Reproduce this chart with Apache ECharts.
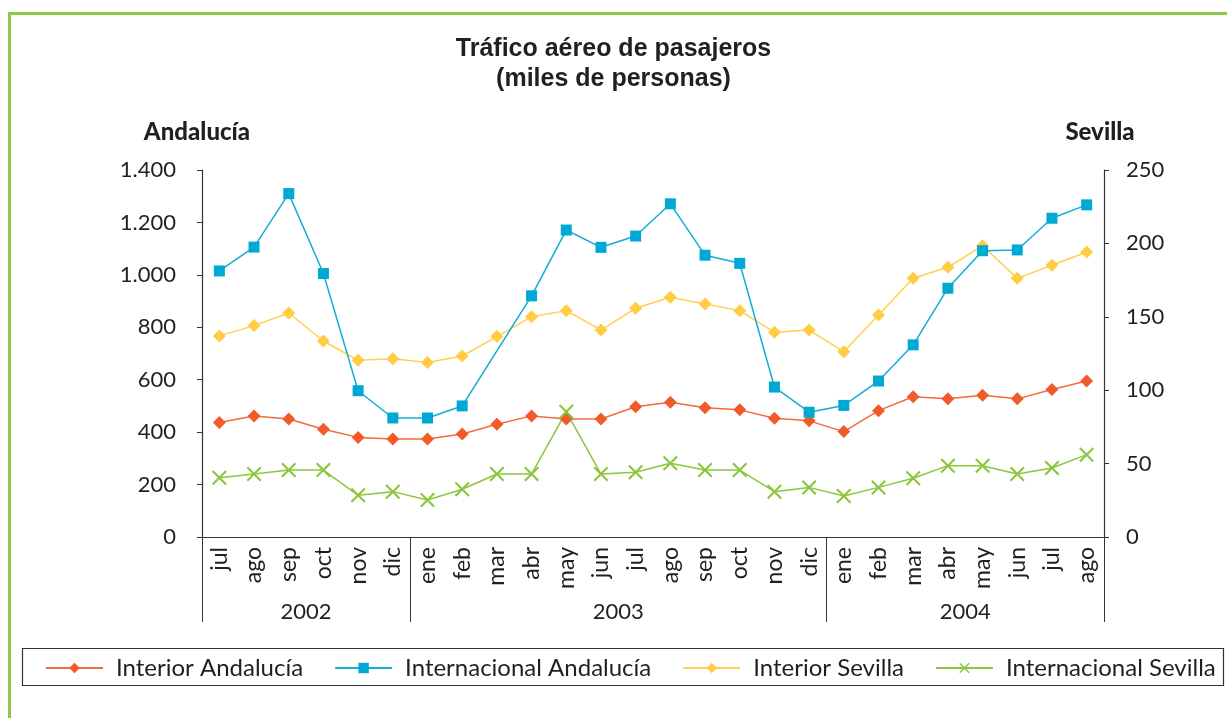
<!DOCTYPE html>
<html>
<head>
<meta charset="utf-8">
<script src="https://cdn.jsdelivr.net/npm/echarts@6/dist/echarts.min.js"></script>
<style>
  html, body { margin: 0; padding: 0; background: #fff; }
  #frame { position: absolute; left: 8px; top: 12px; width: 1300px; height: 800px;
           border-left: 3px solid #8dc84a; border-top: 3px solid #8dc84a; }
  #chart { position: absolute; left: 0; top: 0; width: 1227px; height: 718px; }
</style>
</head>
<body>
<div id="frame"></div>
<div id="chart"></div>
<script>
// months jul 2002 .. ago 2004
const months = ['jul','ago','sep','oct','nov','dic','ene','feb','mar','abr','may','jun',
                'jul','ago','sep','oct','nov','dic','ene','feb','mar','abr','may','jun','jul','ago'];
const years = ['2002', '2003', '2004'];
const yearCenters = [3, 12, 22];
const yearBounds = [0, 6, 18, 26];

// miles de personas (left axis)
const interiorAndalucia = [437, 462, 450, 411, 380, 374, 374, 393, 430, 462, 450, 450,
                           497, 514, 493, 485, 453, 443, 402, 482, 535, 527, 541, 527, 563, 595];
const internacionalAndalucia = [1015, 1106, 1310, 1005, 558, 454, 454, 500, null, 920, 1171, 1105,
                                1148, 1271, 1075, 1044, 572, 476, 502, 595, 733, 949, 1092, 1095, 1216, 1267];
// right axis
const interiorSevilla = [137, 144, 152.6, 133.5, 120.4, 121.5, 118.8, 123.3, 136.5, 150.1, 154.2, 141,
                         155.8, 163.3, 158.7, 154.2, 139.4, 141, 126.2, 151.2, 176.2, 183.7, 198.4, 176.2, 185.1, 194.1];
const internacionalSevilla = [40.4, 42.9, 45.6, 45.6, 28.4, 30.9, 25.2, 32.5, 42.9, 42.9, 85.4, 42.9,
                              44.1, 50.2, 45.6, 45.6, 30.9, 33.8, 27.9, 33.8, 40, 48.6, 48.6, 42.9, 47, 56.1];

const FONT = 'Lato';
const AXIS = '#333';
const crossPath = 'path://M0,1L1,0L5,4L9,0L10,1L6,5L10,9L9,10L5,6L1,10L0,9L4,5Z';

const thousands = v => String(v).replace(/\B(?=(\d{3})+(?!\d))/g, '.');

const chart = echarts.init(document.getElementById('chart'), null, { renderer: 'canvas' });
chart.setOption({
  animation: false,
  title: {
    text: 'Tráfico aéreo de pasajeros\n(miles de personas)',
    left: 'center', top: 29,
    textStyle: { fontFamily: 'Liberation Sans', fontWeight: 'bold', fontSize: 25, lineHeight: 30, color: '#231f20' }
  },
  grid: { left: 202, right: 123, top: 170, bottom: 181 },
  legend: {
    left: 40, top: 651,
    itemWidth: 57, itemHeight: 13, itemGap: 31,
    data: ['Interior Andalucía', 'Internacional Andalucía', 'Interior Sevilla', 'Internacional Sevilla'],
    textStyle: { fontFamily: FONT, fontSize: 24, color: '#231f20', padding: [0, 0, 0, 8] }
  },
  graphic: [{
    type: 'rect', left: 20, top: 646,
    shape: { width: 1201, height: 37 },
    style: { fill: 'none', stroke: '#333', lineWidth: 1.2 }
  }],
  xAxis: [{
    type: 'category', data: months, position: 'bottom',
    axisLine: { lineStyle: { color: AXIS, width: 1.2 } },
    axisTick: { interval: 0, length: 48, lineStyle: { color: AXIS } },
    axisLabel: { interval: 0, rotate: 90, margin: 10, fontFamily: FONT, fontSize: 23, color: '#231f20' }
  }, {
    type: 'value', min: 0, max: 26, position: 'bottom', offset: 0,
    axisLine: { show: false },
    splitLine: { show: false },
    axisTick: { show: true, customValues: yearBounds, length: 85, lineStyle: { color: AXIS } },
    axisLabel: {
      customValues: yearCenters, margin: 64, fontFamily: FONT, fontSize: 22, color: '#231f20',
      formatter: v => years[yearCenters.indexOf(v)]
    }
  }],
  yAxis: [{
    type: 'value', min: 0, max: 1400, interval: 200, position: 'left',
    name: 'Andalucía', nameGap: 26,
    nameTextStyle: { fontFamily: FONT, fontWeight: 900, fontSize: 24, color: '#231f20', padding: [0, 10, 0, 0] },
    axisLine: { show: true, lineStyle: { color: AXIS, width: 1.2 } },
    axisTick: { show: true, length: 5, lineStyle: { color: AXIS } },
    splitLine: { show: false },
    axisLabel: { margin: 26, fontFamily: FONT, fontSize: 22, color: '#231f20', formatter: thousands }
  }, {
    type: 'value', min: 0, max: 250, interval: 50, position: 'right',
    name: 'Sevilla', nameGap: 26,
    nameTextStyle: { fontFamily: FONT, fontWeight: 900, fontSize: 24, color: '#231f20', padding: [0, 8, 0, 0] },
    axisLine: { show: true, lineStyle: { color: AXIS, width: 1.2 } },
    axisTick: { show: true, length: 5, lineStyle: { color: AXIS } },
    splitLine: { show: false },
    axisLabel: { margin: 22, fontFamily: FONT, fontSize: 22, color: '#231f20' }
  }],
  series: [{
    name: 'Interior Andalucía', type: 'line', data: interiorAndalucia, yAxisIndex: 0, z: 3,
    symbol: 'diamond', symbolSize: 13,
    lineStyle: { color: '#f26a3e', width: 1.5 }, itemStyle: { color: '#f15a29' }
  }, {
    name: 'Internacional Andalucía', type: 'line', data: internacionalAndalucia, yAxisIndex: 0, z: 4,
    connectNulls: true, symbol: 'rect', symbolSize: 11,
    lineStyle: { color: '#10aed6', width: 1.5 }, itemStyle: { color: '#00a9d4' }
  }, {
    name: 'Interior Sevilla', type: 'line', data: interiorSevilla, yAxisIndex: 1, z: 2,
    symbol: 'diamond', symbolSize: 13,
    lineStyle: { color: '#ffd04e', width: 1.5 }, itemStyle: { color: '#ffcc44' }
  }, {
    name: 'Internacional Sevilla', type: 'line', data: internacionalSevilla, yAxisIndex: 1, z: 3,
    symbol: crossPath, symbolSize: 15,
    lineStyle: { color: '#8cc63f', width: 1.5 }, itemStyle: { color: '#8cc63f' }
  }]
});
</script>
</body>
</html>
